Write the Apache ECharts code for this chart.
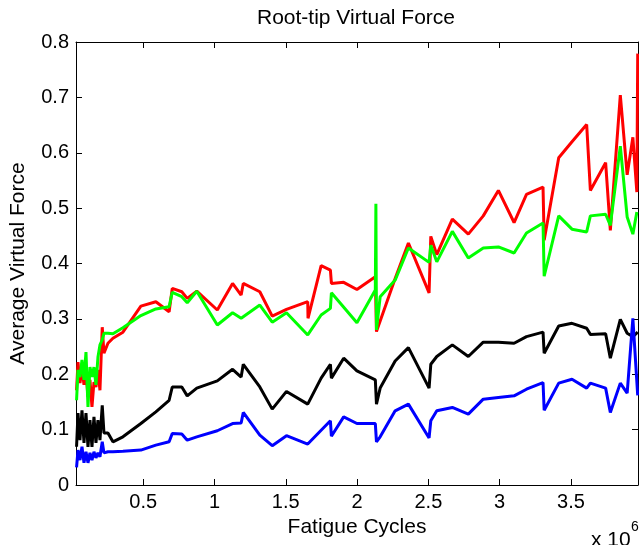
<!DOCTYPE html>
<html>
<head>
<meta charset="utf-8">
<title>Root-tip Virtual Force</title>
<script src="https://cdn.jsdelivr.net/npm/echarts@6.0.0/dist/echarts.min.js"></script>
<style>
  html, body { margin: 0; padding: 0; background: #fff; }
  #chart { width: 639px; height: 545px; }
</style>
</head>
<body>
<div id="chart"></div>
<script>
// fatigue cycles, in units of 1e6 (shared by all four curves)
const cycles = [
  0.033, 0.043, 0.057, 0.071, 0.085, 0.099, 0.113, 0.127, 0.141, 0.155,
  0.169, 0.183, 0.197, 0.213, 0.225, 0.253, 0.288, 0.358,
  0.484, 0.589, 0.682, 0.704, 0.771, 0.809, 0.876, 1.020, 1.127, 1.187, 1.202,
  1.318, 1.405, 1.505, 1.654, 1.656, 1.748, 1.813, 1.820, 1.906, 1.999,
  2.128, 2.132, 2.136, 2.162, 2.267, 2.360,
  2.505, 2.517, 2.559, 2.668, 2.780, 2.885, 2.991, 3.101, 3.188, 3.304, 3.312,
  3.414, 3.507, 3.610, 3.636, 3.743, 3.776, 3.846, 3.894, 3.934, 3.962, 3.968
]

const redForce = [
  0.171, 0.222, 0.184, 0.211, 0.181, 0.204, 0.159, 0.190, 0.141, 0.186,
  0.177, 0.208, 0.171, 0.285, 0.238, 0.256, 0.265, 0.276,
  0.323, 0.331, 0.313, 0.355, 0.349, 0.337, 0.350, 0.316, 0.364, 0.343, 0.364,
  0.349, 0.305, 0.317, 0.331, 0.301, 0.396, 0.388, 0.364, 0.366, 0.353,
  0.376, null, 0.277, null, 0.373, 0.437,
  0.347, 0.449, 0.416, 0.480, 0.453, 0.486, 0.532, 0.474, 0.525, 0.538, 0.442,
  0.591, 0.620, 0.651, 0.532, 0.582, 0.460, 0.704, 0.560, 0.628, 0.529, 0.779
]

const greenForce = [
  0.153, 0.208, 0.195, 0.226, 0.190, 0.240, 0.141, 0.213, 0.195, 0.213,
  0.181, 0.231, 0.253, 0.262, 0.274, 0.274, 0.273, 0.284,
  0.306, 0.318, 0.322, 0.348, 0.340, 0.329, 0.350, 0.289, 0.311, 0.301, null,
  0.325, 0.294, 0.311, 0.271, null, 0.307, 0.319, 0.347, null, 0.293,
  0.352, 0.508, 0.280, 0.340, 0.370, 0.428,
  0.402, 0.433, 0.403, 0.458, 0.410, 0.428, 0.430, 0.419, 0.455, 0.473, 0.377,
  0.486, 0.462, 0.457, 0.486, 0.489, 0.469, 0.612, 0.484, 0.453, 0.493, null
]

const blackForce = [
  0.069, 0.130, 0.081, 0.135, 0.076, 0.130, 0.069, 0.117, 0.069, 0.123,
  0.076, 0.117, 0.081, 0.144, 0.094, 0.094, 0.078, 0.087,
  0.111, 0.132, 0.153, 0.177, 0.177, 0.161, 0.175, 0.188, 0.209, 0.195, 0.218,
  0.177, 0.137, 0.169, 0.146, null, 0.193, 0.218, 0.193, 0.229, 0.206,
  0.190, null, 0.146, 0.175, 0.224, 0.248,
  0.175, 0.218, 0.232, 0.253, 0.232, 0.258, 0.258, 0.256, 0.268, 0.276, 0.238,
  0.287, 0.292, 0.283, 0.272, 0.273, 0.229, 0.299, 0.274, 0.268, null, 0.276
]

const blueForce = [
  0.032, 0.063, 0.045, 0.069, 0.040, 0.060, 0.040, 0.058, 0.045, 0.060,
  0.049, 0.058, 0.051, 0.078, 0.058, 0.060, 0.060, 0.061,
  0.063, 0.072, 0.078, 0.093, 0.092, 0.081, 0.087, 0.098, 0.111, 0.112, 0.131,
  0.090, 0.071, 0.089, 0.074, null, 0.099, 0.116, 0.088, 0.123, 0.111,
  0.111, null, 0.078, 0.087, 0.134, 0.146,
  0.085, 0.116, 0.134, 0.140, 0.128, 0.155, 0.158, 0.161, 0.173, 0.185, 0.135,
  0.184, 0.191, 0.175, 0.184, 0.175, 0.131, 0.184, 0.166, 0.301, null, 0.162
]

const xTicks = [0.5, 1, 1.5, 2, 2.5, 3, 3.5]
const yTicks = [0, 0.1, 0.2, 0.3, 0.4, 0.5, 0.6, 0.7, 0.8]

const X_MIN = 0.029
const X_MAX = 3.97
const FONT = '"Liberation Sans", Arial, sans-serif'

function pairs(values) {
  return cycles.map((c, i) => [c, values[i]])
}

function buildSeries(name, color, values) {
  return {
    name: name,
    type: 'line',
    data: pairs(values),
    showSymbol: false,
    connectNulls: true,
    lineStyle: { width: 3, color: color },
    itemStyle: { color: color },
    emphasis: { disabled: true }
  }
}

function xAxisOption(position) {
  const bottom = position === 'bottom'
  return {
    type: 'value',
    position: position,
    min: X_MIN,
    max: X_MAX,
    axisLine: { show: true, onZero: false, lineStyle: { color: '#000', width: 1 } },
    axisTick: { show: true, inside: true, length: 6, customValues: xTicks, lineStyle: { color: '#000' } },
    axisLabel: {
      show: bottom,
      customValues: xTicks,
      margin: 7,
      color: '#000',
      fontSize: 20,
      fontFamily: FONT
    },
    splitLine: { show: false },
    name: bottom ? 'Fatigue Cycles' : '',
    nameLocation: 'middle',
    nameGap: 32,
    nameTextStyle: { color: '#000', fontSize: 21, fontFamily: FONT }
  }
}

function yAxisOption(position) {
  const left = position === 'left'
  return {
    type: 'value',
    position: position,
    min: 0,
    max: 0.8,
    axisLine: { show: true, onZero: false, lineStyle: { color: '#000', width: 1 } },
    axisTick: { show: true, inside: true, length: 6, customValues: yTicks, lineStyle: { color: '#000' } },
    axisLabel: {
      show: left,
      customValues: yTicks,
      margin: 7,
      color: '#000',
      fontSize: 20,
      fontFamily: FONT
    },
    splitLine: { show: false },
    name: left ? 'Average Virtual Force' : '',
    nameLocation: 'middle',
    nameGap: 47,
    nameTextStyle: { color: '#000', fontSize: 21, fontFamily: FONT }
  }
}

const chart = echarts.init(document.getElementById('chart'), null, { renderer: 'canvas' })

chart.setOption({
  animation: false,
  backgroundColor: '#fff',
  grid: { left: 75, right: 1, top: 42, bottom: 60 },
  xAxis: [xAxisOption('bottom'), xAxisOption('top')],
  yAxis: [yAxisOption('left'), yAxisOption('right')],
  series: [
    buildSeries('red', '#ff0000', redForce),
    buildSeries('green', '#00ff00', greenForce),
    buildSeries('black', '#000000', blackForce),
    buildSeries('blue', '#0000ff', blueForce)
  ],
  graphic: [
    {
      type: 'text',
      x: 356,
      y: 18,
      style: { text: 'Root-tip Virtual Force', align: 'center', verticalAlign: 'middle', fill: '#000', font: '21px ' + FONT }
    },
    {
      type: 'text',
      x: 591,
      y: 540,
      style: { text: 'x 10', align: 'left', verticalAlign: 'middle', fill: '#000', font: '21px ' + FONT }
    },
    {
      type: 'text',
      x: 631,
      y: 527,
      style: { text: '6', align: 'left', verticalAlign: 'middle', fill: '#000', font: '14px ' + FONT }
    }
  ]
})
</script>
</body>
</html>
